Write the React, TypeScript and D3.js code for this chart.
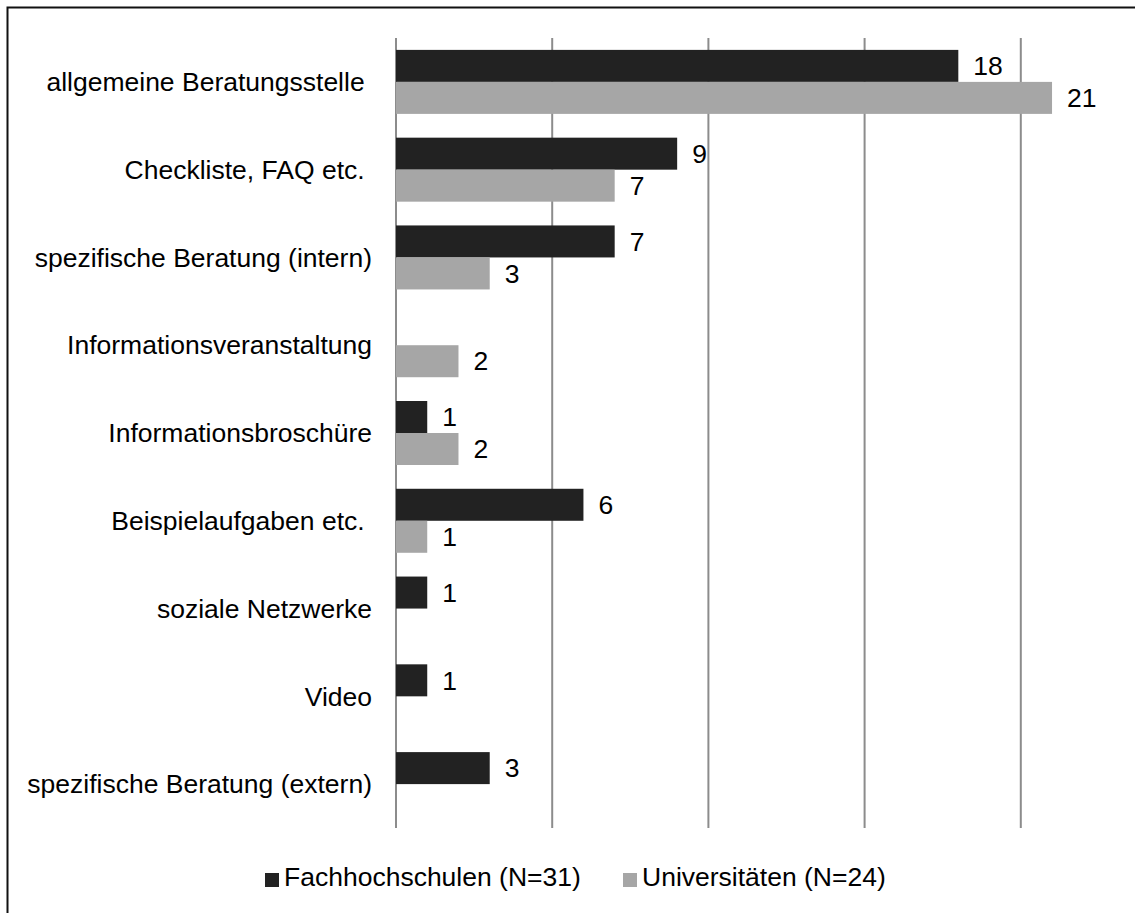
import React, { useEffect, useRef } from "react";
import * as d3 from "d3";

// categories (trailing spaces are in the original labels)
const categories = [
  "allgemeine Beratungsstelle ",
  "Checkliste, FAQ etc. ",
  "spezifische Beratung (intern)",
  "Informationsveranstaltung",
  "Informationsbroschüre",
  "Beispielaufgaben etc. ",
  "soziale Netzwerke",
  "Video",
  "spezifische Beratung (extern)",
];
const fachhochschulen = [18, 9, 7, null, 1, 6, 1, 1, 3];
const universitaeten = [21, 7, 3, 2, 2, 1, null, null, null];
const gridTicks = [0, 5, 10, 15, 20];
const seriesNames = ["Fachhochschulen (N=31)", "Universitäten (N=24)"];
const seriesColors = ["#222222", "#a6a6a6"];

const W = 1135, H = 913;
const FONT = "'Liberation Sans', Arial, sans-serif";
const FS = 26.5;

export default function App() {
  const ref = useRef<SVGSVGElement>(null);

  useEffect(() => {
    const svg = d3.select(ref.current);
    svg.selectAll("*").remove();

    const x = d3.scaleLinear().domain([0, 25]).range([396, 1177]);
    const y = d3.scaleBand<string>().domain(categories).range([38, 828]);
    const barH = 32;

    // chart frame (right & bottom edges cut off in the original)
    svg.append("rect")
      .attr("x", 7.5).attr("y", 7.5)
      .attr("width", W + 20).attr("height", H + 20)
      .attr("fill", "white").attr("stroke", "#111").attr("stroke-width", 2);

    // gridlines
    svg.selectAll(".grid").data(gridTicks).join("line")
      .attr("x1", d => x(d)).attr("x2", d => x(d))
      .attr("y1", 38).attr("y2", 828)
      .attr("stroke", "#8c8c8c").attr("stroke-width", 2);

    const series = [fachhochschulen, universitaeten];
    series.forEach((vals, si) => {
      const rows = categories.map((c, i) => ({ c, v: vals[i] })).filter(d => d.v != null) as { c: string; v: number }[];
      const yTop = (c: string) => y(c)! + y.bandwidth() / 2 - barH + si * barH;

      svg.selectAll(".bar" + si).data(rows).join("rect")
        .attr("x", x(0))
        .attr("y", d => yTop(d.c))
        .attr("width", d => x(d.v) - x(0))
        .attr("height", barH)
        .attr("fill", seriesColors[si]);

      svg.selectAll(".lab" + si).data(rows).join("text")
        .attr("x", d => x(d.v) + 15)
        .attr("y", d => yTop(d.c) + barH / 2)
        .attr("dy", "0.35em")
        .attr("font-family", FONT).attr("font-size", FS)
        .attr("fill", "#000")
        .text(d => String(d.v));
    });

    // category labels
    svg.selectAll(".cat").data(categories).join("text")
      .attr("x", 372)
      .attr("y", d => y(d)! + y.bandwidth() / 2)
      .attr("dy", "0.35em")
      .attr("text-anchor", "end")
      .style("white-space", "pre")
      .attr("font-family", FONT).attr("font-size", FS)
      .attr("fill", "#000")
      .text(d => d);

    // legend
    const legendX = [265, 623];
    seriesNames.forEach((name, i) => {
      svg.append("rect")
        .attr("x", legendX[i]).attr("y", 873)
        .attr("width", 14).attr("height", 14)
        .attr("fill", seriesColors[i]);
      svg.append("text")
        .attr("x", legendX[i] + 19).attr("y", 886)
        .attr("font-family", FONT).attr("font-size", FS)
        .attr("fill", "#000")
        .text(name);
    });
  }, []);

  return (
    <svg ref={ref} width={W} height={H}
      style={{ position: "absolute", left: 0, top: 0, background: "white" }} />
  );
}
